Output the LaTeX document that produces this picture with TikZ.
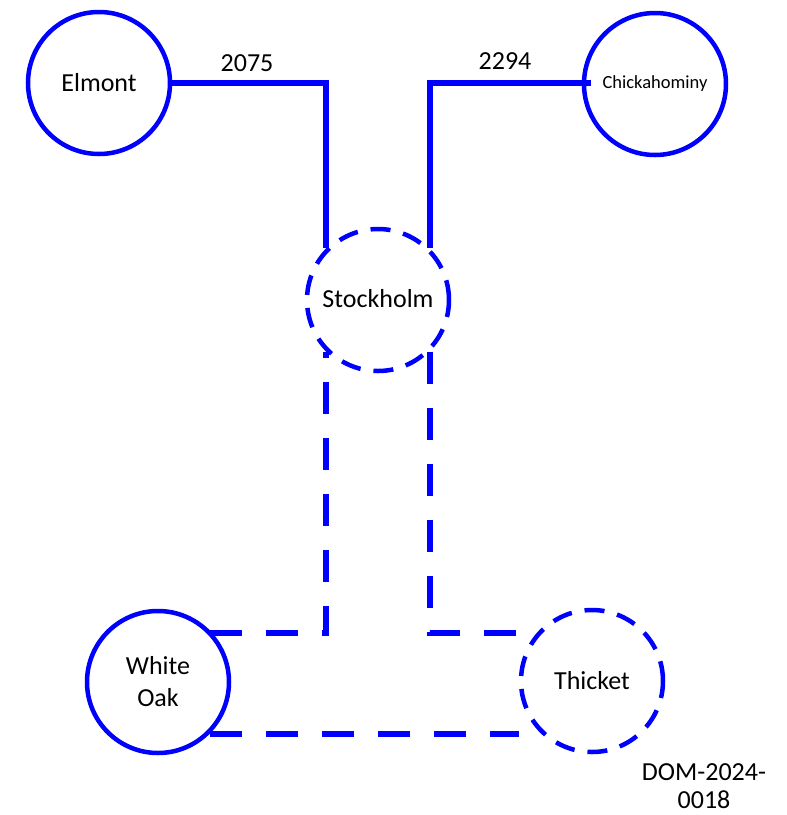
\documentclass[tikz,border=0pt]{standalone}
\usepackage{fontspec}
\setmainfont{Carlito}
\definecolor{netblue}{RGB}{0,0,255}
\begin{document}
\begin{tikzpicture}[x=1pt,y=-1pt,
  site/.style={circle,draw=netblue,line width=4.5pt,minimum size=142pt,inner sep=0pt,
    font=\fontsize{26}{32}\selectfont,align=center},
  plannedsite/.style={site,dash pattern=on 20pt off 13pt},
  conn/.style={draw=netblue,line width=6.5pt},
  plannedconn/.style={conn,dash pattern=on 32pt off 24pt},
  lbl/.style={font=\fontsize{26}{32}\selectfont,inner sep=0pt}]
\useasboundingbox (0,0) rectangle (787,815);

% sites
\node[site] (elmont) at (99,83) {Elmont};
\node[site,font=\fontsize{18.5}{22}\selectfont] (chick) at (655,84) {Chickahominy};
\node[plannedsite] (stock) at (378,300) {\raisebox{3pt}{Stockholm}};
\node[site] (whiteoak) at (158,682) {White\\Oak};
\node[plannedsite] (thicket) at (592,681) {Thicket};

% existing lines
\coordinate (chickend) at ([xshift=9pt,yshift=1pt]chick.west);
\draw[conn] (elmont.east) -| (stock.135);
\draw[conn] (stock.45) |- (chickend);
\node[lbl] (l2075) at (247,63) {2075};
\node[lbl] (l2294) at (505,61) {2294};

% planned lines
\coordinate (wotop) at ([yshift=-3pt]whiteoak.45);
\draw[plannedconn] (wotop) -| (stock.225);
\draw[plannedconn] (stock.315) |- (thicket.west |- wotop);
\draw[plannedconn] (whiteoak.-45) -- (thicket.west |- whiteoak.-45);

% document number
\node[lbl,align=center,font=\fontsize{26}{28}\selectfont] (docid) at (704,786) {DOM-2024-\\0018};
\end{tikzpicture}
\end{document}
